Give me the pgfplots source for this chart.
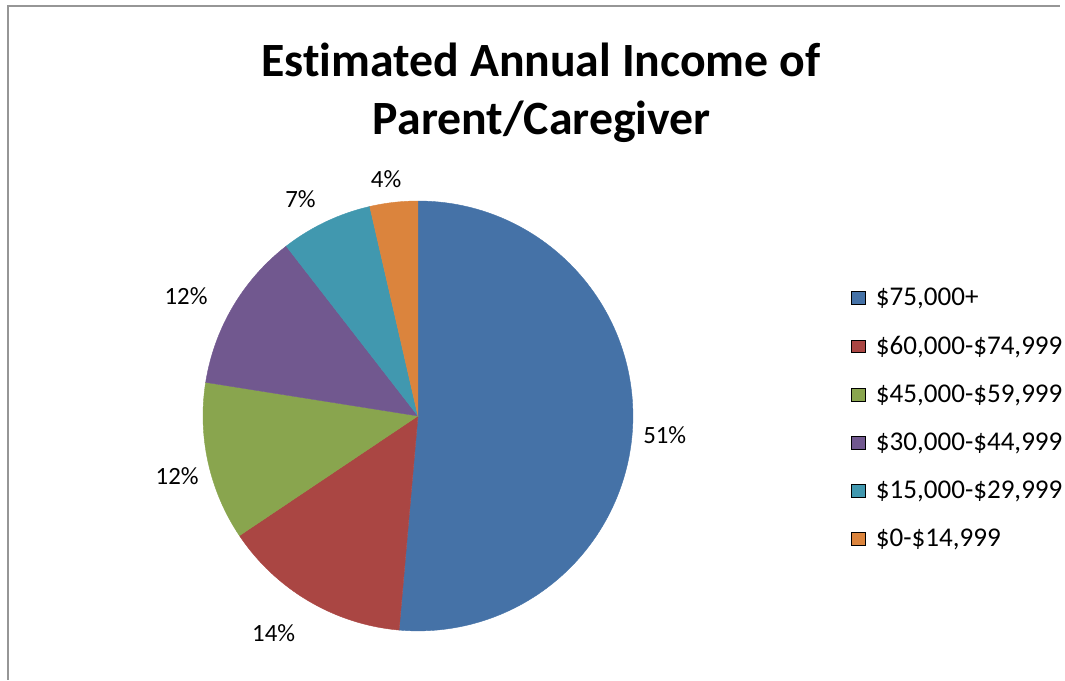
\documentclass[border=0pt]{standalone}
\usepackage{pgfplots}
\pgfplotsset{compat=1.18}
\usepackage{pgfplotstable}
\usepackage{fontspec}
\setmainfont{Carlito}[Ligatures=NoCommon]
\definecolor{c0}{HTML}{4572A7}
\definecolor{c1}{HTML}{AA4643}
\definecolor{c2}{HTML}{89A54E}
\definecolor{c3}{HTML}{71588F}
\definecolor{c4}{HTML}{4198AF}
\definecolor{c5}{HTML}{DB843D}
\definecolor{framegray}{HTML}{969696}
\pgfplotsset{pieleg/.style={legend image code/.code={\fill[##1] (0pt,-4.75pt) rectangle (11pt,4.75pt);}}}

\pgfplotstableread{
value pct
51.4 51
14.2 14
11.9 12
12.0 12
6.9 7
3.6 4
}\pietable

\begin{document}
\begin{tikzpicture}
\gdef\cum{0}
\foreach \i in {0,...,5}{%
  \pgfplotstablegetelem{\i}{value}\of\pietable
  \let\vv\pgfplotsretval
  \pgfmathsetmacro{\sa}{90-3.6*\cum}%
  \pgfmathsetmacro{\ea}{90-3.6*(\cum+\vv)}%
  \expandafter\xdef\csname sa\i\endcsname{\sa}%
  \expandafter\xdef\csname ea\i\endcsname{\ea}%
  \pgfmathsetmacro{\cc}{\cum+\vv}\xdef\cum{\cc}%
  \pgfplotstablegetelem{\i}{pct}\of\pietable
  \expandafter\xdef\csname pc\i\endcsname{\pgfplotsretval}%
}
\begin{axis}[
  x=0.75pt, y=0.75pt, xmin=0, xmax=1065, ymin=0, ymax=683,
  scale only axis, hide axis, clip=false,
  legend cell align=left,
  legend style={at={(axis cs:855,396)}, anchor=north west, draw=none, fill=none,
    inner sep=0pt, outer sep=0pt, font=\fontsize{20.4pt}{24pt}\selectfont,
    row sep=17.4pt,
    /tikz/every odd column/.append style={column sep=5.5pt}},
]
\path (axis cs:0,0) rectangle (axis cs:1065,683);
\pgfplotsinvokeforeach{0,...,5}{
  \filldraw[fill=c#1, draw=c#1, line width=0.3pt] (axis cs:420,265) -- ++(\csname sa#1\endcsname:162pt)
    arc[start angle=\csname sa#1\endcsname, end angle=\csname ea#1\endcsname, radius=162pt] -- cycle;
}
\addlegendimage{pieleg, fill=c0}\addlegendentry{\$75,000+}
\addlegendimage{pieleg, fill=c1}\addlegendentry{\$60,000-\$74,999}
\addlegendimage{pieleg, fill=c2}\addlegendentry{\$45,000-\$59,999}
\addlegendimage{pieleg, fill=c3}\addlegendentry{\$30,000-\$44,999}
\addlegendimage{pieleg, fill=c4}\addlegendentry{\$15,000-\$29,999}
\addlegendimage{pieleg, fill=c5}\addlegendentry{\$0-\$14,999}
\begin{scope}[every node/.style={font=\fontsize{18.7pt}{22pt}\selectfont, inner sep=0pt}]
\node at (axis cs:668,246) {\csname pc0\endcsname\%};
\node at (axis cs:275,47) {\csname pc1\endcsname\%};
\node at (axis cs:178,205) {\csname pc2\endcsname\%};
\node at (axis cs:187,385) {\csname pc3\endcsname\%};
\node at (axis cs:302,483) {\csname pc4\endcsname\%};
\node at (axis cs:388,503) {\csname pc5\endcsname\%};
\end{scope}
\node[anchor=base, font=\fontsize{36pt}{43pt}\selectfont\bfseries, inner sep=0pt] at (axis cs:543.5,606) {Estimated Annual Income of};
\node[anchor=base, font=\fontsize{36pt}{43pt}\selectfont\bfseries, inner sep=0pt] at (axis cs:544.5,548) {Parent/Caregiver};
\draw[framegray, line width=1.5pt] (axis cs:7.7,0) -- (axis cs:7.7,677) -- (axis cs:1065,677);
\end{axis}
\end{tikzpicture}
\end{document}
